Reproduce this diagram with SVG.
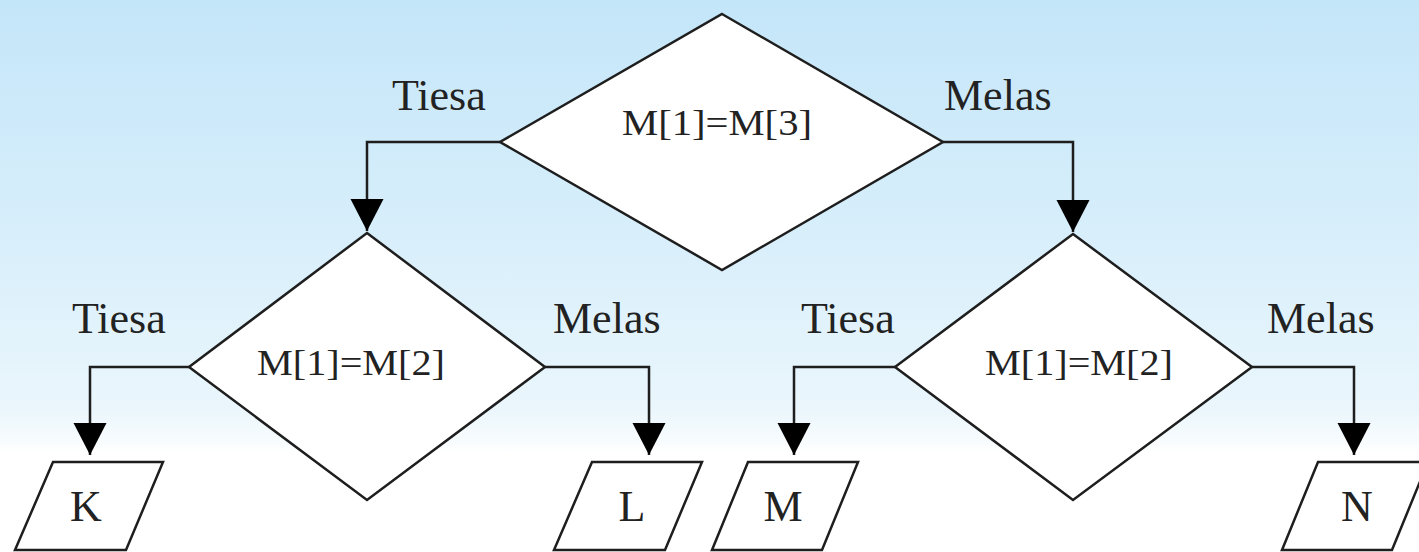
<svg xmlns="http://www.w3.org/2000/svg" width="1419" height="552" viewBox="0 0 1419 552">
  <defs>
    <linearGradient id="bg" x1="0" y1="0" x2="0" y2="552" gradientUnits="userSpaceOnUse">
      <stop offset="0" stop-color="#c4e6f9"/>
      <stop offset="0.45" stop-color="#d9effb"/>
      <stop offset="0.74" stop-color="#eaf6fc"/>
      <stop offset="0.80" stop-color="#f8fcfe"/>
      <stop offset="0.82" stop-color="#ffffff"/>
      <stop offset="1" stop-color="#ffffff"/>
    </linearGradient>
    <marker id="arrow" markerUnits="userSpaceOnUse" markerWidth="34" markerHeight="34" refX="32" refY="16.5" orient="auto">
      <path d="M0,0 L32,16.5 L0,33 z" fill="#000"/>
    </marker>
    <style>
      .shape { fill: #ffffff; stroke: #1e1e1e; stroke-width: 2.5; stroke-linejoin: miter; }
      .link { fill: none; stroke: #1e1e1e; stroke-width: 2.5; marker-end: url(#arrow); }
      text { font-family: 'Liberation Serif', 'Times New Roman', 'DejaVu Serif', serif; fill: #222; }
      .label { font-size: 44px; }
      .cond { font-size: 35px; }
      .io { font-size: 44px; text-anchor: middle; }
    </style>
  </defs>

  <rect x="0" y="0" width="1419" height="552" fill="url(#bg)"/>

  <!-- branch labels -->
  <g id="labels">
    <text class="label" x="392" y="110">Tiesa</text>
    <text class="label" x="944" y="110">Melas</text>
    <text class="label" x="72" y="333">Tiesa</text>
    <text class="label" x="553" y="333">Melas</text>
    <text class="label" x="801" y="333">Tiesa</text>
    <text class="label" x="1267" y="333">Melas</text>
  </g>

  <!-- connectors -->
  <g id="connectors">
    <path class="link" d="M500,142 H367 V231"/>
    <path class="link" d="M943,142 H1073 V232"/>
    <path class="link" d="M189,367 H90 V455"/>
    <path class="link" d="M545,367 H649 V455"/>
    <path class="link" d="M895,367 H794 V455"/>
    <path class="link" d="M1252,367 H1354 V455"/>
  </g>

  <!-- decision: M[1]=M[3] -->
  <g id="decision-top">
    <polygon class="shape" points="722,14 943,142 722,270 500,142"/>
    <text class="cond" x="622" y="135" textLength="190" lengthAdjust="spacingAndGlyphs">M[1]=M[3]</text>
  </g>

  <!-- decision: left M[1]=M[2] -->
  <g id="decision-left">
    <polygon class="shape" points="367,233 545,367 367,500 189,367"/>
    <text class="cond" x="257" y="375" textLength="188" lengthAdjust="spacingAndGlyphs">M[1]=M[2]</text>
  </g>

  <!-- decision: right M[1]=M[2] -->
  <g id="decision-right">
    <polygon class="shape" points="1073,234 1252,367 1073,500 895,367"/>
    <text class="cond" x="985" y="375" textLength="188" lengthAdjust="spacingAndGlyphs">M[1]=M[2]</text>
  </g>

  <!-- outputs -->
  <g id="out-K">
    <polygon class="shape" points="53,462 163,462 126,550 15,550"/>
    <text class="io" x="86" y="521">K</text>
  </g>
  <g id="out-L">
    <polygon class="shape" points="592,462 702,462 665,550 554,550"/>
    <text class="io" x="632" y="521">L</text>
  </g>
  <g id="out-M">
    <polygon class="shape" points="748,462 858,462 822,550 712,550"/>
    <text class="io" x="783" y="521">M</text>
  </g>
  <g id="out-N">
    <polygon class="shape" points="1318,462 1428,462 1392,550 1282,550"/>
    <text class="io" x="1357" y="521">N</text>
  </g>
</svg>
